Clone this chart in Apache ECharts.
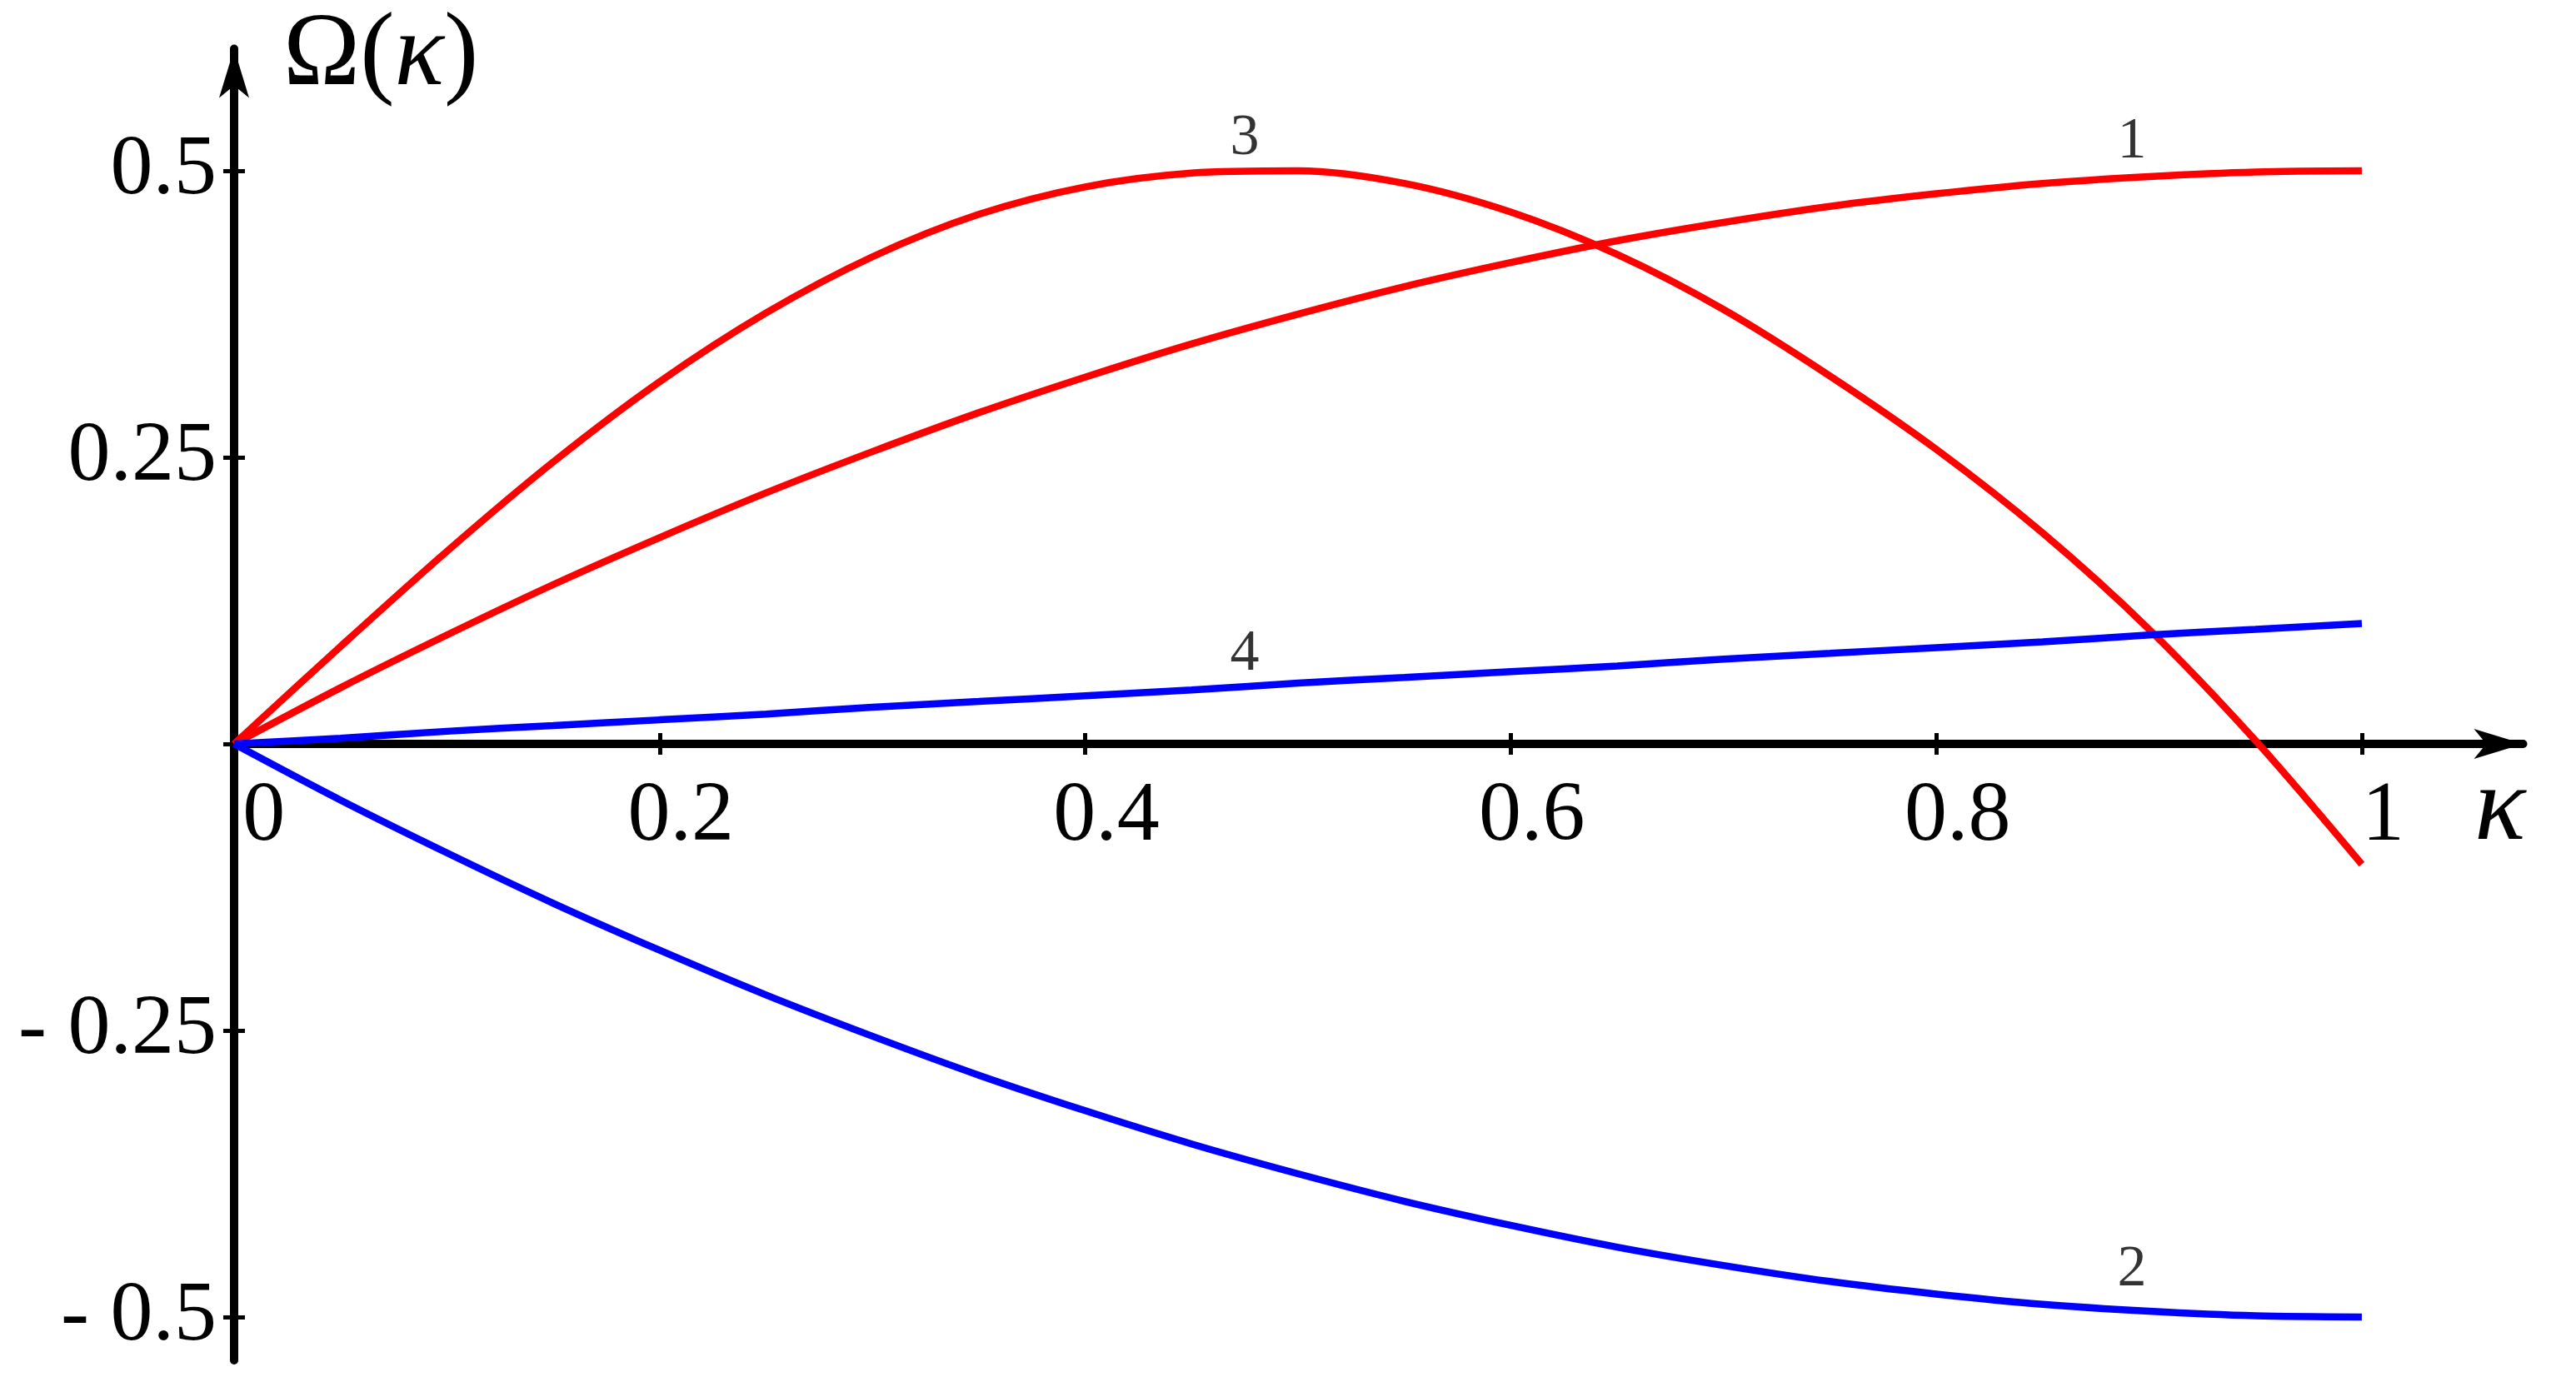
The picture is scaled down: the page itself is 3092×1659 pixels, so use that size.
<!DOCTYPE html>
<html>
<head>
<meta charset="utf-8">
<script src="https://cdn.jsdelivr.net/npm/echarts@6/dist/echarts.min.js"></script>
<style>
html,body{margin:0;padding:0;background:#ffffff;}
#chart{width:3092px;height:1659px;}
</style>
</head>
<body>
<div id="chart"></div>
<script>
// ---- data ----
const kappa  = [0,0.05,0.1,0.15,0.2,0.25,0.3,0.35,0.4,0.45,0.5,0.55,0.6,0.65,0.7,0.75,0.8,0.85,0.9,0.95,1];
const omega1 = [0,0.049,0.095,0.139,0.180,0.219,0.255,0.289,0.320,0.349,0.375,0.399,0.420,0.439,0.455,0.469,0.480,0.489,0.495,0.499,0.500];
const omega2 = [0,-0.049,-0.095,-0.139,-0.180,-0.219,-0.255,-0.289,-0.320,-0.349,-0.375,-0.399,-0.420,-0.439,-0.455,-0.469,-0.480,-0.489,-0.495,-0.499,-0.500];
const omega3 = [0,0.085,0.168,0.246,0.316,0.376,0.425,0.462,0.486,0.498,0.500,0.489,0.464,0.427,0.379,0.321,0.257,0.184,0.100,0.003,-0.105];
const omega4 = [0,0.005,0.011,0.016,0.021,0.026,0.032,0.037,0.042,0.047,0.053,0.058,0.063,0.068,0.074,0.079,0.084,0.089,0.095,0.100,0.105];

const xTickValues = [0,0.2,0.4,0.6,0.8,1];
const xTickLabels = ['\u2002\u20090','\u20020.2','\u20020.4','\u20020.6','\u20020.8','\u20021'];
const yTickValues = [-0.5,-0.25,0,0.25,0.5];
const yLabelValues = [-0.5,-0.25,0.25,0.5];
const yTickLabels = ['- 0.5','- 0.25','0.25','0.5'];

const curveLabels = ['1','2','3','4'];
const curveLabelX = [0.892,0.892,0.475,0.475];
const curveLabelY = [0.525,-0.459,0.528,0.078];

const xName = 'κ';
const yNameMain = 'Ω(';
const yNameVar = 'κ';
const yNameEnd = ')';

// ---- chart ----
const FONT = '"Liberation Serif","Times New Roman","DejaVu Serif",serif';
const X_MIN = 0, X_MAX = 1.0758;
const Y_MIN = -0.5378, Y_MAX = 0.6065;
const GRID_TOP = 58.5, GRID_BOTTOM = 26;
const RED = '#ff0000', BLUE = '#0000ff';

function lookup(vals, labels, v){
  for (let i = 0; i < vals.length; i++) if (Math.abs(vals[i]-v) < 1e-9) return labels[i];
  return '';
}
function pairs(xs, ys){ return xs.map((x,i)=>[x, ys[i]]); }

const chart = echarts.init(document.getElementById('chart'), null, {renderer:'canvas'});
// the x axis sits at y = 0: shift it up from the grid bottom by the height of the negative part
const plotH = 1659 - GRID_TOP - GRID_BOTTOM;
const zeroOffset = -plotH * (0 - Y_MIN) / (Y_MAX - Y_MIN);

const axisLineStyle = {color:'#000', width:10};
const tickStyle = {color:'#000', width:5};

const option = {
  animation:false,
  backgroundColor:'#ffffff',
  grid:{left:281, right:63.5, top:GRID_TOP, bottom:GRID_BOTTOM, containLabel:false, outerBoundsMode:'none'},
  xAxis:[
    {
      type:'value', min:X_MIN, max:X_MAX, position:'bottom', offset:zeroOffset,
      axisLine:{show:true, onZero:false, symbol:['none','arrow'], symbolSize:[27,59], lineStyle:axisLineStyle},
      axisTick:{show:true, inside:true, length:13, lineStyle:tickStyle, customValues:xTickValues},
      axisLabel:{
        show:true, customValues:xTickValues, margin:37, hideOverlap:false,
        fontFamily:FONT, fontSize:102, lineHeight:102, color:'#000',
        formatter:function(v){ return lookup(xTickValues, xTickLabels, v); }
      },
      splitLine:{show:false},
      name:xName, nameLocation:'end', nameGap:-58.5,
      nameTextStyle:{fontFamily:FONT, fontSize:128, fontStyle:'italic', color:'#000', align:'left', verticalAlign:'top', lineHeight:128, padding:[16,0,0,0]}
    },
    {
      type:'value', min:X_MIN, max:X_MAX, position:'bottom', offset:zeroOffset,
      axisLine:{show:false, onZero:false},
      axisTick:{show:true, inside:false, length:13, lineStyle:tickStyle, customValues:xTickValues},
      axisLabel:{show:false},
      splitLine:{show:false}
    }
  ],
  yAxis:[
    {
      type:'value', min:Y_MIN, max:Y_MAX, position:'left',
      axisLine:{show:true, onZero:false, symbol:['none','arrow'], symbolSize:[27,59], lineStyle:axisLineStyle},
      axisTick:{show:true, inside:true, length:13, lineStyle:tickStyle, customValues:yTickValues},
      axisLabel:{
        show:true, customValues:yLabelValues, margin:21,
        fontFamily:FONT, fontSize:102, lineHeight:102, color:'#000',
        formatter:function(v){ return lookup(yLabelValues, yTickLabels, v); }
      },
      splitLine:{show:false},
      name:'{a|'+yNameMain+'}{b|'+yNameVar+'}{a|'+yNameEnd+'}',
      nameLocation:'end', nameGap:-9.5,
      nameTextStyle:{
        align:'left', verticalAlign:'middle', padding:[0,0,0,59],
        rich:{
          a:{fontFamily:FONT, fontSize:124, color:'#000'},
          b:{fontFamily:FONT, fontSize:124, fontStyle:'italic', color:'#000'}
        }
      }
    },
    {
      type:'value', min:Y_MIN, max:Y_MAX, position:'left',
      axisLine:{show:false, onZero:false},
      axisTick:{show:true, inside:false, length:13, lineStyle:tickStyle, customValues:yTickValues},
      axisLabel:{show:false},
      splitLine:{show:false}
    }
  ],
  series:[
    {type:'line', name:'1', data:pairs(kappa, omega1), xAxisIndex:0, yAxisIndex:0, showSymbol:false, smooth:0.3,
     lineStyle:{color:RED, width:8.5}, itemStyle:{color:RED}, silent:true, z:3},
    {type:'line', name:'3', data:pairs(kappa, omega3), xAxisIndex:0, yAxisIndex:0, showSymbol:false, smooth:0.3,
     lineStyle:{color:RED, width:8.5}, itemStyle:{color:RED}, silent:true, z:3},
    {type:'line', name:'2', data:pairs(kappa, omega2), xAxisIndex:0, yAxisIndex:0, showSymbol:false, smooth:0.3,
     lineStyle:{color:BLUE, width:8.5}, itemStyle:{color:BLUE}, silent:true, z:4},
    {type:'line', name:'4', data:pairs(kappa, omega4), xAxisIndex:0, yAxisIndex:0, showSymbol:false, smooth:0.3,
     lineStyle:{color:BLUE, width:8.5}, itemStyle:{color:BLUE}, silent:true, z:4},
    {type:'scatter', name:'labels', xAxisIndex:0, yAxisIndex:0, symbolSize:1, silent:true, z:5,
     itemStyle:{color:'transparent'},
     data:curveLabels.map((t,i)=>({name:t, value:[curveLabelX[i], curveLabelY[i]]})),
     label:{show:true, position:'inside', formatter:'{b}', fontFamily:FONT, fontSize:70, color:'#000'}}
  ]
};
chart.setOption(option);
</script>
</body>
</html>
